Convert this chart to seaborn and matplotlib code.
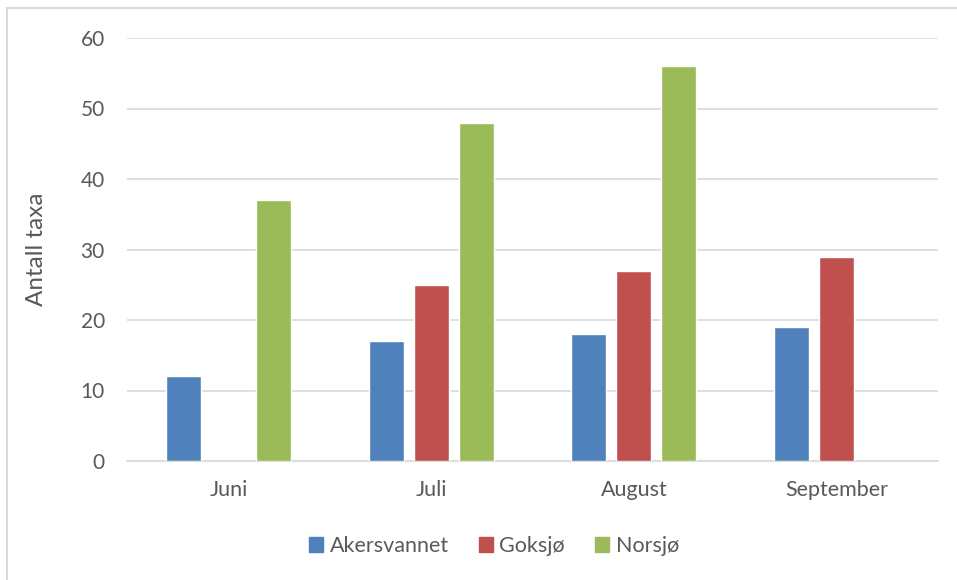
import numpy as np
import pandas as pd
import matplotlib.pyplot as plt
import matplotlib.patches as mpatches
import seaborn as sns

# Data (missing bars left out)
months = ['Juni', 'Juli', 'August', 'September']
lakes = ['Akersvannet', 'Goksjø', 'Norsjø']
akersvannet = [12, 17, 18, 19]
goksjo = [np.nan, 25, 27, 29]
norsjo = [37, 48, 56, np.nan]
colors = ['#4F81BD', '#C0504D', '#9BBB59']

df = pd.DataFrame({
    'month': months * 3,
    'lake': np.repeat(lakes, len(months)),
    'taxa': akersvannet + goksjo + norsjo,
}).dropna()

sns.set_theme(style='white')
plt.rcParams['font.family'] = ['Lato', 'DejaVu Sans']

fig = plt.figure(figsize=(9.57, 5.8), dpi=100)
ax = fig.add_axes([127 / 957, 119 / 580, 811 / 957, 423 / 580])

sns.barplot(data=df, x='month', y='taxa', hue='lake', order=months,
            hue_order=lakes, palette=colors, width=0.666, gap=0.22,
            saturation=1, ax=ax, zorder=3)

ax.set_xlim(-0.5, 3.5)
ax.set_ylim(0, 60)
ax.set_yticks(range(0, 61, 10))
ax.yaxis.grid(True, color='#D9D9D9', linewidth=1.2, zorder=0)
ax.set_axisbelow(True)
for side in ['top', 'right', 'left']:
    ax.spines[side].set_visible(False)
ax.spines['bottom'].set_color('#D9D9D9')
ax.spines['bottom'].set_linewidth(1.2)
ax.tick_params(axis='both', length=0, colors='#595959')
ax.tick_params(axis='y', pad=16, labelsize=15)
ax.tick_params(axis='x', pad=14, labelsize=15.5)
ax.set_xlabel('')
ax.set_ylabel('Antall taxa', fontsize=17.5, color='#595959', labelpad=24)

handles = [mpatches.Patch(color=c, label=l) for c, l in zip(colors, lakes)]
ax.get_legend().remove()
fig.legend(handles=handles, loc='center', bbox_to_anchor=(494 / 957, 1 - 546 / 580),
           ncol=3, frameon=False, fontsize=15.5, handlelength=0.65, handleheight=0.65,
           handletextpad=0.3, columnspacing=1.4, labelcolor='#595959')

# light frame around the chart (only left and top visible)
fig.patches.append(mpatches.Rectangle((7 / 957, -0.1), 1.2, 1 - 8 / 580 + 0.1,
                                      transform=fig.transFigure, fill=False,
                                      edgecolor='#D9D9D9', linewidth=1.5))

fig.savefig('out.png', dpi=100)
